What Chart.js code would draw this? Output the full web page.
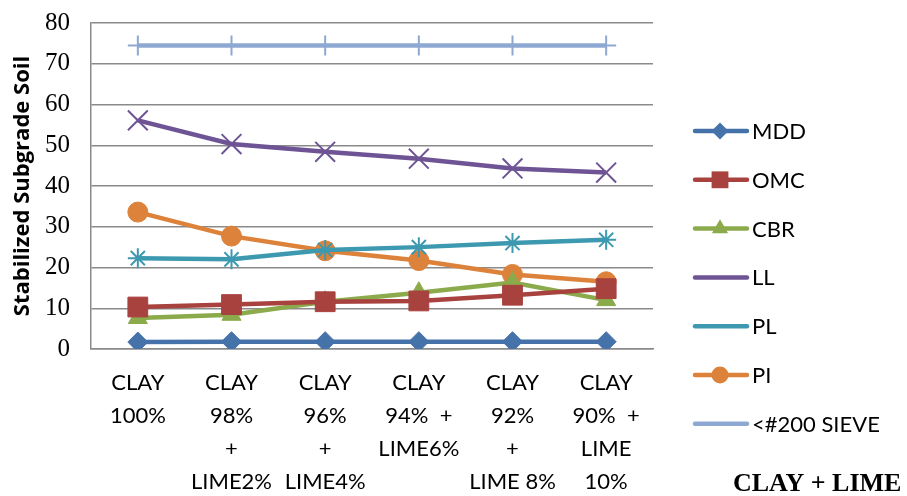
<!DOCTYPE html>
<html>
<head>
<meta charset="utf-8">
<script src="https://cdn.jsdelivr.net/npm/chart.js@4/dist/chart.umd.min.js"></script>
<style>
  html, body { margin: 0; padding: 0; background: #fff; }
  #wrap { width: 907px; height: 496px; position: relative; }
</style>
</head>
<body>
<div id="wrap"><canvas id="chart"></canvas></div>
<script>
// categories (multi-line tick labels)
const categories = [
  ["CLAY", "100%"],
  ["CLAY", "98%", "+", "LIME2%"],
  ["CLAY", "96%", "+", "LIME4%"],
  ["CLAY", "94%  +", "LIME6%"],
  ["CLAY", "92%", "+", "LIME 8%"],
  ["CLAY", "90%  +", "LIME", "10%"]
];

// series values
const mdd   = [1.7, 1.8, 1.8, 1.8, 1.8, 1.8];
const omc   = [10.3, 10.9, 11.6, 11.8, 13.2, 14.8];
const cbr   = [7.6, 8.4, 11.6, 13.8, 16.3, 12.0];
const ll    = [56.1, 50.3, 48.4, 46.7, 44.3, 43.3];
const pl    = [22.3, 22.0, 24.3, 25.0, 26.0, 26.8];
const pi    = [33.6, 27.7, 24.1, 21.7, 18.3, 16.5];
const sieve = [74.5, 74.5, 74.5, 74.5, 74.5, 74.5];

const yTicks = [0, 10, 20, 30, 40, 50, 60, 70, 80];

function series(label, data, color, style, radius, pbw, lineW) {
  return {
    label: label,
    data: data,
    borderColor: color,
    backgroundColor: color,
    borderWidth: lineW || 4.5,
    pointStyle: style,
    pointRadius: radius,
    pointHoverRadius: radius,
    pointBackgroundColor: color,
    pointBorderColor: color,
    pointBorderWidth: pbw,
    tension: 0
  };
}

const datasets = [
  series("MDD", mdd, "#4672AA", "rectRot", 10, 1),
  series("OMC", omc, "#A8423F", "rect", 14, 1),
  series("CBR", cbr, "#8BAA4B", "triangle", 11, 1),
  series("LL", ll, "#6E5494", "crossRot", 14, 2),
  series("PL", pl, "#3D99AF", "star", 10, 2),
  series("PI", pi, "#DC823A", "circle", 10, 1),
  series("<#200 SIEVE", sieve, "#8EA8D2", "cross", 10, 2)
];

// legend + corner caption drawn by hand so each item shows line and marker
const sideLegend = {
  id: "sideLegend",
  afterDraw(chart) {
    const ctx = chart.ctx;
    ctx.save();
    datasets.forEach((ds, i) => {
      const y = 131 + i * 48.8;
      ctx.strokeStyle = ds.borderColor;
      ctx.lineWidth = 4.5;
      ctx.lineCap = "round";
      ctx.beginPath();
      ctx.moveTo(695, y);
      ctx.lineTo(747, y);
      ctx.stroke();
      ctx.lineWidth = ds.pointBorderWidth;
      ctx.fillStyle = ds.pointBackgroundColor;
      ctx.strokeStyle = ds.pointBorderColor;
      Chart.helpers.drawPoint(ctx, {pointStyle: ds.pointStyle, radius: ds.pointRadius * 0.85, rotation: 0}, 720, y);
      ctx.fillStyle = "#000";
      ctx.font = "22px Lato";
      ctx.textBaseline = "middle";
      ctx.textAlign = "left";
      ctx.fillText(ds.label, 752, y + 1);
    });
    ctx.font = "bold 26px 'Liberation Serif'";
    ctx.textBaseline = "alphabetic";
    ctx.fillText("CLAY + LIME", 733, 491);
    ctx.restore();
  }
};

new Chart(document.getElementById("chart"), {
  type: "line",
  data: { labels: categories, datasets: datasets },
  plugins: [sideLegend],
  options: {
    responsive: true,
    maintainAspectRatio: false,
    animation: false,
    layout: { padding: { top: 23, right: 254, left: 0, bottom: 0 } },
    plugins: {
      legend: { display: false },
      tooltip: { enabled: false }
    },
    scales: {
      x: {
        offset: true,
        afterFit(scale) {
          scale.height = 496 - 349;
          scale.paddingLeft = 0;
          scale.paddingRight = 0;
        },
        grid: { display: false, drawTicks: false },
        border: { color: "#8A8A8A", width: 1.5 },
        ticks: {
          color: "#000",
          font: { family: "Lato", size: 22, lineHeight: 1.5 },
          maxRotation: 0,
          autoSkip: false,
          padding: 17
        }
      },
      y: {
        min: 0,
        max: 80,
        afterFit(scale) {
          scale.width = 91;
          scale.paddingTop = 0;
          scale.paddingBottom = 0;
        },
        afterBuildTicks(scale) { scale.ticks = yTicks.map(v => ({ value: v })); },
        grid: { color: "#8A8A8A", lineWidth: 1.5, drawTicks: false },
        border: { color: "#8A8A8A", width: 1.5 },
        ticks: {
          color: "#000",
          font: { family: "'Liberation Serif'", size: 25 },
          padding: 21
        },
        title: {
          display: true,
          text: "Stabilized Subgrade Soil",
          color: "#000",
          font: { family: "'Open Sans'", size: 22, weight: "bold" },
          padding: { top: 10, bottom: 0 }
        }
      }
    }
  }
});
</script>
</body>
</html>
